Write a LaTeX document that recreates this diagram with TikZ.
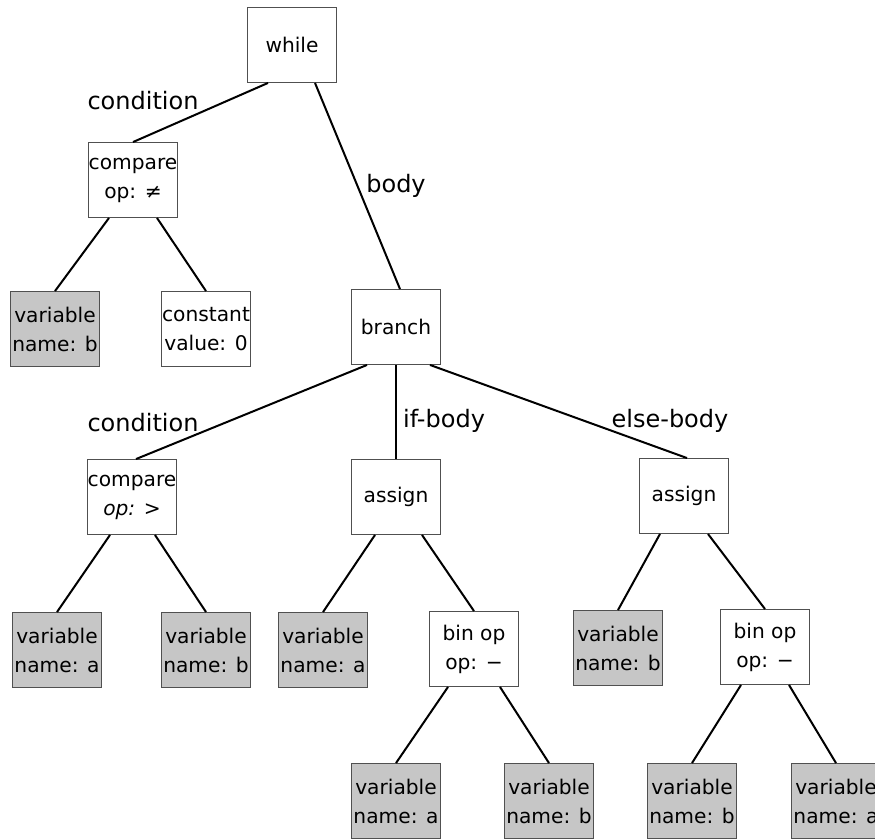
\documentclass[tikz,border=0pt]{standalone}
\usepackage{fontspec}
\setmainfont{DejaVu Sans}
\usetikzlibrary{calc}
\definecolor{boxgray}{HTML}{C6C6C6}
\definecolor{framegray}{HTML}{505050}
\tikzset{
  astnode/.style={draw=framegray, line width=0.9pt, fill=white, minimum width=89pt, minimum height=75pt,
    inner sep=0pt, align=center, font=\fontsize{20.2}{29}\selectfont},
  varnode/.style={astnode, fill=boxgray},
  edgeline/.style={line width=2pt, black},
  edgelabel/.style={font=\fontsize{24}{28}\selectfont, inner sep=0pt}
}
\begin{document}
\begin{tikzpicture}[x=1pt,y=-1pt]
\useasboundingbox (0,0) rectangle (875,838);
\clip (0,0) rectangle (875,838);
% nodes
\node[astnode] (while) at (292,45) {while};
\node[astnode] (cmpA) at (133,180) {compare\\op: ≠};
\node[varnode] (vB1) at (55,329) {variable\\name: b};
\node[astnode] (const) at (206,329) {constant\\value: 0};
\node[astnode] (branch) at (396,327) {branch};
\node[astnode] (cmpB) at (132,497) {compare\\{\itshape op:} >};
\node[varnode] (vA2) at (57,650) {variable\\name: a};
\node[varnode] (vB2) at (206,650) {variable\\name: b};
\node[astnode] (asgA) at (396,497) {assign};
\node[varnode] (vA3) at (323,650) {variable\\name: a};
\node[astnode] (binA) at (474,649) {bin op\\op: −};
\node[astnode] (asgB) at (684,496) {assign};
\node[varnode] (vB4) at (618,648) {variable\\name: b};
\node[astnode] (binB) at (765,647) {bin op\\op: −};
\node[varnode] (vA5) at (396,801) {variable\\name: a};
\node[varnode] (vB5) at (549,801) {variable\\name: b};
\node[varnode] (vB6) at (692,801) {variable\\name: b};
\node[varnode] (vA6) at (836,801) {variable\\name: a};
% edges
\draw[edgeline] ($(while.south)+(-24,0)$) -- (cmpA.north);
\draw[edgeline] ($(while.south)+(23,0)$) -- ($(branch.north)+(4,0)$);
\draw[edgeline] ($(cmpA.south)+(-24,0)$) -- (vB1.north);
\draw[edgeline] ($(cmpA.south)+(24,0)$) -- (const.north);
\draw[edgeline] ($(branch.south)+(-29,0)$) -- ($(cmpB.north)+(4,0)$);
\draw[edgeline] (branch.south) -- (asgA.north);
\draw[edgeline] ($(branch.south)+(34,0)$) -- ($(asgB.north)+(3,0)$);
\draw[edgeline] ($(cmpB.south)+(-22,0)$) -- (vA2.north);
\draw[edgeline] ($(cmpB.south)+(23,0)$) -- (vB2.north);
\draw[edgeline] ($(asgA.south)+(-21,0)$) -- (vA3.north);
\draw[edgeline] ($(asgA.south)+(26,0)$) -- (binA.north);
\draw[edgeline] ($(asgB.south)+(-24,0)$) -- (vB4.north);
\draw[edgeline] ($(asgB.south)+(24,0)$) -- (binB.north);
\draw[edgeline] ($(binA.south)+(-26,0)$) -- (vA5.north);
\draw[edgeline] ($(binA.south)+(26,0)$) -- (vB5.north);
\draw[edgeline] ($(binB.south)+(-24,0)$) -- (vB6.north);
\draw[edgeline] ($(binB.south)+(24,0)$) -- (vA6.north);
% labels
\node[edgelabel] (lcondA) at (143,101) {condition};
\node[edgelabel] (lbody) at (396,186) {body};
\node[edgelabel] (lcondB) at (143,423) {condition};
\node[edgelabel] (lif) at (444,421) {if-body};
\node[edgelabel] (lelse) at (670,421) {else-body};
\end{tikzpicture}
\end{document}
